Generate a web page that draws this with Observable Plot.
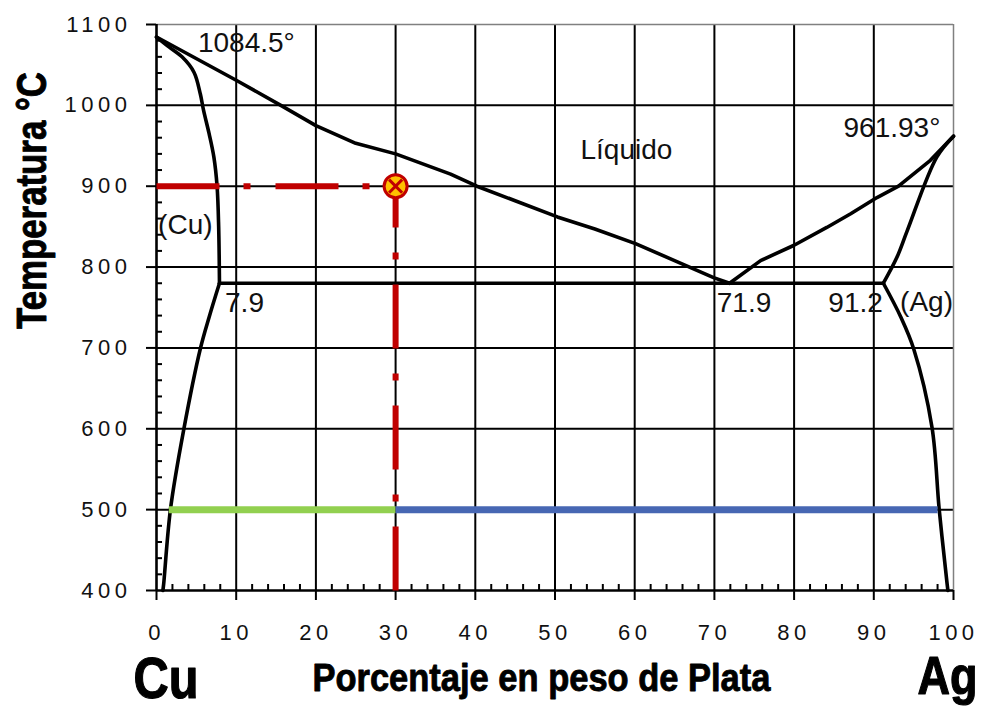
<!DOCTYPE html>
<html><head><meta charset="utf-8">
<script src="https://cdn.jsdelivr.net/npm/d3@7"></script>
<script src="https://cdn.jsdelivr.net/npm/@observablehq/plot@0.6"></script>
<style>
html,body{margin:0;padding:0;background:#fff;}
#chart svg{display:block;}
g[aria-label="x-axis tick label"] text, g[aria-label="y-axis tick label"] text{letter-spacing:4.5px;}
</style></head><body><div id="chart"></div>
<script>
// axis ticks
const xTicks = [0,10,20,30,40,50,60,70,80,90,100];
const yTicks = [400,500,600,700,800,900,1000,1100];
const xGrid = [10,20,30,40,50,60,70,80,90];
const yGrid = [500,600,700,800,900,1000];
const xMinor = d3.range(2,100,2).filter(d => d % 10 !== 0);
const yMinor = d3.range(420,1100,20).filter(d => d % 100 !== 0);

// phase boundaries [wt% Ag, °C]
const liquidusCu = [[0,1084.5],[10,1031],[15.6,1000],[20,975],[25,953],[30,940],[36.9,915],[40.2,900],[45,882],[50.3,862],[55,847],[60.1,829],[65,808],[69.9,787],[71.9,780]];
const liquidusAg = [[71.9,780],[75.8,808],[80,827],[84.1,849],[87.1,866],[90.4,886],[93.1,900],[97.1,932],[100,961.93]];
const solidusCu = [[0,1084.5],[1.6,1072],[3.2,1060],[4.7,1041],[5.5,1014],[5.9,994],[6.6,965],[7.2,936],[7.6,900],[7.8,850],[7.9,780]];
const solvusCu = [[7.9,780],[6.6,738],[5.5,699],[3.4,598],[1.76,501],[0.9,408],[0.8,400]];
const solidusAg = [[100,961.93],[97.9,936],[94.2,845],[92.9,812],[91.2,780]];
const solvusAg = [[91.2,780],[93.4,738],[95.0,699],[97.3,602],[98.2,501],[99.2,408],[99.3,400]];
const eutectic = [[7.9,780],[91.2,780]];

// construction lines
const redH = [[0,900],[30,900]];
const redV = [[30,400],[30,900]];
const point = [[30,900]];
const greenTie = [[1.55,500],[30,500]];
const blueTie = [[30,500],[98.0,500]];

// annotations
const labelText = ["1084.5°","961.93°","Líquido","(Cu)","7.9","71.9","91.2","(Ag)"];
const labelX    = [5.2, 86.2, 53.2, 0.2, 8.6, 70.3, 84.3, 93.3];
const labelY    = [1077, 972.5, 945, 852, 756, 756, 756, 757];
const labels = labelText.map((t,i) => ({t, x: labelX[i], y: labelY[i]}));

const xTitle = "Porcentaje en peso de Plata";
const yTitle = "Temperatura °C";
const leftElem = "Cu", rightElem = "Ag";

const P = d => d[0], T = d => d[1];
const boldFont = '"Liberation Sans", Arial, sans-serif';
const curve = (data, c = "linear") => Plot.line(data, {x: P, y: T, curve: c, stroke: "#000", strokeWidth: 3.6, strokeLinejoin: "round", strokeLinecap: "round"});

const chart = Plot.plot({
  width: 984, height: 709,
  marginLeft: 156, marginRight: 31, marginTop: 24, marginBottom: 119,
  style: {fontFamily: '"Liberation Sans", Arial, sans-serif', background: "#fff", overflow: "visible"},
  x: {domain: [0,100]},
  y: {domain: [400,1100]},
  marks: [
    Plot.ruleX(xGrid, {stroke: "#000", strokeWidth: 2}),
    Plot.ruleY(yGrid, {stroke: "#000", strokeWidth: 2}),
    Plot.ruleX([100], {stroke: "#808080", strokeWidth: 1.5}),
    Plot.ruleY([1100], {stroke: "#808080", strokeWidth: 1.5}),
    Plot.ruleX(xMinor, {stroke: "#000", strokeWidth: 2, insetTop: 560}),
    Plot.ruleY(yMinor, {stroke: "#000", strokeWidth: 2, insetRight: 791}),
    Plot.axisX({ticks: xTicks, tickFormat: d => String(d), tickSize: 10, tickPadding: 24, fontSize: 22, fill: "#111", strokeWidth: 2, label: null}),
    Plot.axisY({ticks: yTicks, tickFormat: d => String(d), tickSize: 10, tickPadding: 15, fontSize: 22, fill: "#111", strokeWidth: 2, label: null}),
    Plot.ruleX([0], {stroke: "#000", strokeWidth: 2.6}),
    Plot.ruleY([400], {stroke: "#000", strokeWidth: 2.6}),
    curve(liquidusCu), curve(liquidusAg), curve(solidusCu, "catmull-rom"), curve(solvusCu, "catmull-rom"),
    curve(solidusAg, "catmull-rom"), curve(solvusAg, "catmull-rom"), curve(eutectic),
    Plot.line(greenTie, {x: P, y: T, stroke: "#92d050", strokeWidth: 7, strokeLinecap: "butt"}),
    Plot.line(blueTie, {x: P, y: T, stroke: "#4767b3", strokeWidth: 7, strokeLinecap: "butt"}),
    Plot.line(redH, {x: P, y: T, stroke: "#c00000", strokeWidth: 6, strokeLinecap: "butt", strokeDasharray: "63,24,7,25"}),
    Plot.line(redV, {x: P, y: T, stroke: "#c00000", strokeWidth: 6, strokeLinecap: "butt", strokeDasharray: "64,25,7,25"}),
    Plot.dot(point, {x: P, y: T, r: 11.5, fill: "#ffc000", stroke: "#c00000", strokeWidth: 3}),
    Plot.dot(point, {x: P, y: T, r: 6, symbol: "times", stroke: "#c00000", strokeWidth: 3}),
    Plot.text(labels, {x: "x", y: "y", text: "t", textAnchor: "start", fontSize: 28, fill: "#111"}),
    Plot.text([xTitle], {x: 48.3, frameAnchor: "bottom", dy: 100, lineAnchor: "bottom", fontSize: 39, fontWeight: "bold", fontFamily: boldFont, fill: "#000", stroke: "#000", strokeWidth: 0.9}),
    Plot.text([yTitle], {frameAnchor: "left", rotate: -90, dx: -123.5, dy: 21.5, lineAnchor: "middle", fontSize: 42, fontWeight: "bold", fontFamily: boldFont, fill: "#000", stroke: "#000", strokeWidth: 0.9}),
    Plot.text([leftElem], {x: 1.2, frameAnchor: "bottom", dy: 107, lineAnchor: "bottom", fontSize: 58, fontWeight: "bold", fontFamily: boldFont, fill: "#000", stroke: "#000", strokeWidth: 1.2}),
    Plot.text([rightElem], {x: 100, dx: 24, frameAnchor: "bottom", dy: 103, lineAnchor: "bottom", textAnchor: "end", fontSize: 54, fontWeight: "bold", fontFamily: boldFont, fill: "#000", stroke: "#000", strokeWidth: 1.2})
  ]
});
// condense the heavy titles to the reference's narrow bold lettering
const fitWidth = {[xTitle]: 458, [yTitle]: 257, [leftElem]: 65, [rightElem]: 60};
d3.select(chart).selectAll("text").each(function() {
  const w = fitWidth[this.textContent];
  if (w) { this.setAttribute("textLength", w); this.setAttribute("lengthAdjust", "spacingAndGlyphs"); }
});
document.getElementById("chart").appendChild(chart);
</script></body></html>
